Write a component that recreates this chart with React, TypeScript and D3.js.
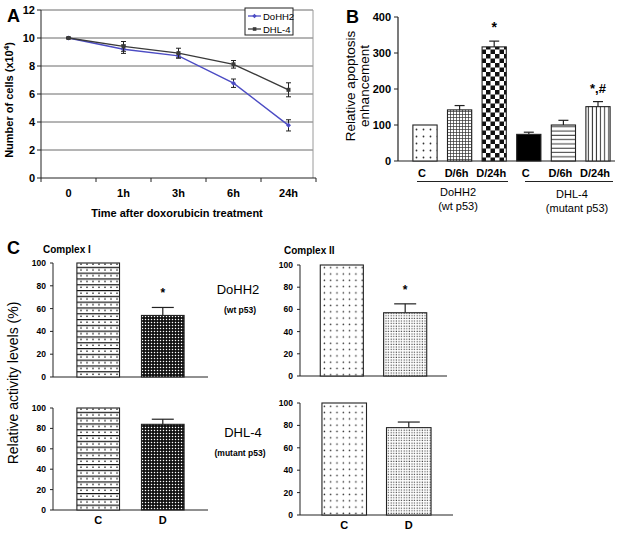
import React from "react";
import * as d3 from "d3";

// Panel A
const timeLabels = ["0", "1h", "3h", "6h", "24h"];
const doHH2Cells = [10, 9.2, 8.72, 6.77, 3.76];
const doHH2Err = [0.05, 0.3, 0.15, 0.3, 0.4];
const dhl4Cells = [10, 9.4, 8.92, 8.12, 6.3];
const dhl4Err = [0.05, 0.35, 0.35, 0.27, 0.5];
const cellTicks = [0, 2, 4, 6, 8, 10, 12];

// Panel B
const apopCategories = ["C", "D/6h", "D/24h", "C", "D/6h", "D/24h"];
const apopValues = [100, 142, 317, 74, 100, 151];
const apopErr = [0, 12, 16, 6, 13, 14];
const apopMarks = ["", "", "*", "", "", "*,#"];
const apopTicks = [0, 100, 200, 300, 400];
const apopPatterns = ["pDotsSparse", "pMesh", "pChecker", "solidBlack", "pHLines", "pVLines"];

// Panel C
const activityCategories = ["C", "D"];
const complexIDoHH2 = [100, 54];
const complexIDoHH2Err = [0, 7];
const complexIDHL4 = [100, 84];
const complexIDHL4Err = [0, 5];
const complexIIDoHH2 = [100, 57];
const complexIIDoHH2Err = [0, 8];
const complexIIDHL4 = [100, 78];
const complexIIDHL4Err = [0, 5];
const activityTicks = [0, 20, 40, 60, 80, 100];

const FONT = "'Liberation Sans', Arial, sans-serif";

function PanelA() {
  const x = d3.scaleBand<string>().domain(timeLabels).range([41, 316]);
  const y = d3.scaleLinear().domain([0, 12]).range([178, 10]);
  const cx = (t: string) => (x(t) as number) + x.bandwidth() / 2;
  const line = d3
    .line<number>()
    .x((_, i) => cx(timeLabels[i]))
    .y((d) => y(d));
  const blue = "#4c4cc4";
  const dark = "#3a3a3a";
  const series = [
    { vals: doHH2Cells, err: doHH2Err, color: blue },
    { vals: dhl4Cells, err: dhl4Err, color: dark },
  ];
  const bounds = [...timeLabels.map((t) => x(t) as number), 316];
  return (
    <g>
      <text x={7} y={22} fontSize={18} fontWeight="bold" fontFamily={FONT}>A</text>
      {cellTicks.filter((t) => t > 0).map((t) => (
        <line key={t} x1={41} x2={313} y1={y(t)} y2={y(t)} stroke="#6a6a6a" strokeWidth={1} />
      ))}
      <line x1={313} x2={313} y1={y(12)} y2={178} stroke="#9a9a9a" strokeWidth={1} />
      <line x1={41} x2={41} y1={y(12)} y2={178} stroke="#222" strokeWidth={1} />
      <line x1={41} x2={316} y1={178} y2={178} stroke="#222" strokeWidth={1} />
      {cellTicks.map((t) => (
        <g key={t}>
          <line x1={37} x2={41} y1={y(t)} y2={y(t)} stroke="#222" />
          <text x={35} y={y(t) + 4} textAnchor="end" fontSize={11} fontWeight="bold" fontFamily={FONT}>{t}</text>
        </g>
      ))}
      {bounds.map((b, i) => (
        <line key={i} x1={b} x2={b} y1={178} y2={182} stroke="#222" />
      ))}
      {timeLabels.map((t) => (
        <text key={t} x={cx(t)} y={197} textAnchor="middle" fontSize={11} fontWeight="bold" fontFamily={FONT}>{t}</text>
      ))}
      <text transform="translate(13,100) rotate(-90)" textAnchor="middle" fontSize={11} fontWeight="bold" fontFamily={FONT}>
        Number of cells (x10<tspan dy={-4} fontSize={8}>4</tspan><tspan dy={4}>)</tspan>
      </text>
      <text x={177} y={217} textAnchor="middle" fontSize={11} fontWeight="bold" fontFamily={FONT}>Time after doxorubicin treatment</text>
      {series.map((s, si) => (
        <g key={si}>
          {s.vals.map((v, i) => {
            const xx = cx(timeLabels[i]);
            return (
              <g key={i}>
                <line x1={xx} x2={xx} y1={y(v - s.err[i])} y2={y(v + s.err[i])} stroke="#222" strokeWidth={1} />
                <line x1={xx - 2.5} x2={xx + 2.5} y1={y(v - s.err[i])} y2={y(v - s.err[i])} stroke="#222" />
                <line x1={xx - 2.5} x2={xx + 2.5} y1={y(v + s.err[i])} y2={y(v + s.err[i])} stroke="#222" />
              </g>
            );
          })}
          <path d={line(s.vals) || ""} fill="none" stroke={s.color} strokeWidth={1.4} />
          {s.vals.map((v, i) =>
            si === 0 ? (
              <path key={i} d={`M${cx(timeLabels[i])},${y(v) - 2.5}l2.5,2.5l-2.5,2.5l-2.5,-2.5z`} fill={s.color} />
            ) : (
              <rect key={i} x={cx(timeLabels[i]) - 2} y={y(v) - 2} width={4} height={4} fill={s.color} />
            )
          )}
        </g>
      ))}
      <rect x={245} y={8} width={48} height={27} fill="#fff" stroke="#222" strokeWidth={1} />
      <line x1={248} x2={261} y1={16} y2={16} stroke={blue} strokeWidth={1.3} />
      <path d={`M254.5,13.8l2.2,2.2l-2.2,2.2l-2.2,-2.2z`} fill={blue} />
      <text x={263} y={19.5} fontSize={9.5} fontFamily={FONT}>DoHH2</text>
      <line x1={248} x2={261} y1={29} y2={29} stroke={dark} strokeWidth={1.3} />
      <rect x={252.8} y={27.2} width={3.6} height={3.6} fill={dark} />
      <text x={263} y={32.5} fontSize={9.5} fontFamily={FONT}>DHL-4</text>
    </g>
  );
}

function PanelB() {
  const idx = apopCategories.map((_, i) => String(i));
  const x = d3.scaleBand<string>().domain(idx).range([407.7, 615.3]).paddingInner(0.3).paddingOuter(0.15);
  const y = d3.scaleLinear().domain([0, 400]).range([161, 17]);
  const bw = x.bandwidth();
  return (
    <g>
      <text x={346} y={23} fontSize={18} fontWeight="bold" fontFamily={FONT}>B</text>
      <line x1={398} x2={398} y1={y(400)} y2={y(0)} stroke="#222" strokeWidth={1.2} />
      <line x1={398} x2={615} y1={y(0)} y2={y(0)} stroke="#222" strokeWidth={1.2} />
      {apopTicks.map((t) => (
        <g key={t}>
          <line x1={394} x2={398} y1={y(t)} y2={y(t)} stroke="#222" />
          <text x={391} y={y(t) + 4} textAnchor="end" fontSize={11} fontWeight="bold" fontFamily={FONT}>{t}</text>
        </g>
      ))}
      {apopValues.map((v, i) => {
        const x0 = x(String(i)) as number;
        const c = x0 + bw / 2;
        const top = y(v);
        const et = y(v + apopErr[i]);
        return (
          <g key={i}>
            {apopErr[i] > 0 && (
              <g>
                <line x1={c} x2={c} y1={top} y2={et} stroke="#222" strokeWidth={1.2} />
                <line x1={c - 5} x2={c + 5} y1={et} y2={et} stroke="#222" strokeWidth={1.2} />
              </g>
            )}
            <rect x={x0} y={top} width={bw} height={y(0) - top}
              fill={apopPatterns[i] === "solidBlack" ? "#000" : `url(#${apopPatterns[i]})`}
              stroke="#222" strokeWidth={1.1} />
            {apopMarks[i] && (
              <text x={c} y={et - 9} textAnchor="middle" fontSize={apopMarks[i] === "*" ? 14 : 13} fontWeight="bold" fontFamily={FONT}>{apopMarks[i]}</text>
            )}
            <text x={c - 3} y={177} textAnchor="middle" fontSize={11} fontWeight="bold" fontFamily={FONT}>{apopCategories[i]}</text>
          </g>
        );
      })}
      <line x1={417} x2={508} y1={181.5} y2={181.5} stroke="#222" strokeWidth={1} />
      <line x1={525} x2={613} y1={181.5} y2={181.5} stroke="#222" strokeWidth={1} />
      <text x={458} y={196} textAnchor="middle" fontSize={11} fontFamily={FONT}>DoHH2</text>
      <text x={458} y={210} textAnchor="middle" fontSize={11} fontFamily={FONT}>(wt p53)</text>
      <text x={572} y={198} textAnchor="middle" fontSize={11} fontFamily={FONT}>DHL-4</text>
      <text x={577} y={212} textAnchor="middle" fontSize={11} fontFamily={FONT}>(mutant p53)</text>
      <text transform="translate(355,86) rotate(-90)" textAnchor="middle" fontSize={13.5} fontFamily={FONT}>Relative apoptosis</text>
      <text transform="translate(369,86) rotate(-90)" textAnchor="middle" fontSize={13.5} fontFamily={FONT}>enhancement</text>
    </g>
  );
}

type SubProps = {
  axisX: number;
  xEnd: number;
  y0: number;
  y100: number;
  pi: number;
  po: number;
  values: number[];
  errs: number[];
  patterns: string[];
  star: boolean;
  showCats: boolean;
};

function SubChart(p: SubProps) {
  const x = d3.scaleBand<string>().domain(activityCategories).range([p.axisX, p.xEnd]).paddingInner(p.pi).paddingOuter(p.po);
  const y = d3.scaleLinear().domain([0, 100]).range([p.y0, p.y100]);
  const bw = x.bandwidth();
  return (
    <g>
      <line x1={p.axisX} x2={p.axisX} y1={y(100)} y2={y(0)} stroke="#222" strokeWidth={1} />
      <line x1={p.axisX} x2={p.xEnd} y1={y(0)} y2={y(0)} stroke="#222" strokeWidth={1} />
      {activityTicks.map((t) => (
        <g key={t}>
          <line x1={p.axisX - 3} x2={p.axisX} y1={y(t)} y2={y(t)} stroke="#222" />
          <text x={p.axisX - 7} y={y(t) + 3} textAnchor="end" fontSize={8.5} fontWeight="bold" fontFamily={FONT}>{t}</text>
        </g>
      ))}
      {p.values.map((v, i) => {
        const cat = activityCategories[i];
        const x0 = x(cat) as number;
        const c = x0 + bw / 2;
        const top = y(v);
        const et = y(v + p.errs[i]);
        return (
          <g key={i}>
            {p.errs[i] > 0 && (
              <g>
                <line x1={c} x2={c} y1={top} y2={et} stroke="#222" strokeWidth={1.2} />
                <line x1={c - 11} x2={c + 11} y1={et} y2={et} stroke="#222" strokeWidth={1.2} />
              </g>
            )}
            <rect x={x0} y={top} width={bw} height={y(0) - top} fill={`url(#${p.patterns[i]})`} stroke="#222" strokeWidth={1.1} />
            {p.star && i === 1 && (
              <text x={c} y={et - 10} textAnchor="middle" fontSize={12} fontWeight="bold" fontFamily={FONT}>*</text>
            )}
            {p.showCats && (
              <text x={c} y={y(0) + 14} textAnchor="middle" fontSize={11} fontWeight="bold" fontFamily={FONT}>{cat}</text>
            )}
          </g>
        );
      })}
    </g>
  );
}

function PanelC() {
  return (
    <g>
      <text x={7} y={254} fontSize={18} fontWeight="bold" fontFamily={FONT}>C</text>
      <text x={43} y={253} fontSize={10} fontWeight="bold" fontFamily={FONT}>Complex I</text>
      <text x={284} y={254} fontSize={10} fontWeight="bold" fontFamily={FONT}>Complex II</text>
      <SubChart axisX={53} xEnd={208} y0={377} y100={263} pi={0.34} po={0.37}
        values={complexIDoHH2} errs={complexIDoHH2Err} patterns={["pBrick", "pDiamond"]} star={true} showCats={false} />
      <SubChart axisX={53} xEnd={208} y0={510} y100={408} pi={0.34} po={0.37}
        values={complexIDHL4} errs={complexIDHL4Err} patterns={["pBrick", "pDiamond"]} star={false} showCats={true} />
      <SubChart axisX={300} xEnd={447} y0={376} y100={265} pi={0.32} po={0.32}
        values={complexIIDoHH2} errs={complexIIDoHH2Err} patterns={["pDotsMid", "pDotsFine"]} star={true} showCats={false} />
      <SubChart axisX={300} xEnd={453} y0={515} y100={403} pi={0.31} po={0.34}
        values={complexIIDHL4} errs={complexIIDHL4Err} patterns={["pDotsMid", "pDotsFine"]} star={false} showCats={true} />
      <text x={238} y={294} textAnchor="middle" fontSize={13} fontFamily={FONT}>DoHH2</text>
      <text x={240} y={313} textAnchor="middle" fontSize={8.5} fontWeight="bold" fontFamily={FONT}>(wt p53)</text>
      <text x={243} y={437} textAnchor="middle" fontSize={13} fontFamily={FONT}>DHL-4</text>
      <text x={240} y={456} textAnchor="middle" fontSize={8.5} fontWeight="bold" fontFamily={FONT}>(mutant p53)</text>
      <text transform="translate(18,383) rotate(-90)" textAnchor="middle" fontSize={14} fontFamily={FONT}>Relative activity levels (%)</text>
    </g>
  );
}

function Patterns() {
  return (
    <defs>
      <pattern id="pDotsSparse" width={7} height={7} patternUnits="userSpaceOnUse">
        <rect width={7} height={7} fill="#fff" />
        <circle cx={3.5} cy={3.5} r={0.9} fill="#333" />
      </pattern>
      <pattern id="pMesh" width={3} height={3} patternUnits="userSpaceOnUse">
        <rect width={3} height={3} fill="#fff" />
        <path d="M0,0.4H3M0.4,0V3" stroke="#333" strokeWidth={0.8} />
      </pattern>
      <pattern id="pChecker" width={9} height={9} patternUnits="userSpaceOnUse">
        <rect width={9} height={9} fill="#fff" />
        <rect x={0} y={0} width={4.5} height={4.5} fill="#111" />
        <rect x={4.5} y={4.5} width={4.5} height={4.5} fill="#111" />
      </pattern>
      <pattern id="pHLines" width={4.3} height={4.3} patternUnits="userSpaceOnUse">
        <rect width={4.3} height={4.3} fill="#fff" />
        <line x1={0} x2={4.3} y1={2} y2={2} stroke="#333" strokeWidth={1} />
      </pattern>
      <pattern id="pVLines" width={4.1} height={4.1} patternUnits="userSpaceOnUse">
        <rect width={4.1} height={4.1} fill="#fff" />
        <line x1={2} x2={2} y1={0} y2={4.1} stroke="#333" strokeWidth={1} />
      </pattern>
      <pattern id="pBrick" width={6} height={5.8} patternUnits="userSpaceOnUse">
        <rect width={6} height={5.8} fill="#fff" />
        <line x1={0} x2={6} y1={0.6} y2={0.6} stroke="#111" strokeWidth={1.2} />
        <rect x={2} y={2.6} width={2} height={1} fill="#222" />
      </pattern>
      <pattern id="pDiamond" width={3} height={3} patternUnits="userSpaceOnUse">
        <rect width={3} height={3} fill="#111" />
        <circle cx={1.5} cy={1.5} r={0.75} fill="#fff" />
      </pattern>
      <pattern id="pDotsMid" width={6.3} height={6.3} patternUnits="userSpaceOnUse">
        <rect width={6.3} height={6.3} fill="#fff" />
        <circle cx={3.1} cy={3.1} r={0.75} fill="#222" />
      </pattern>
      <pattern id="pDotsFine" width={2.6} height={2.6} patternUnits="userSpaceOnUse">
        <rect width={2.6} height={2.6} fill="#fff" />
        <rect x={0.6} y={0.6} width={1.1} height={1.1} fill="#333" />
      </pattern>
    </defs>
  );
}

export default function App() {
  return (
    <svg width={626} height={535} viewBox="0 0 626 535"
      style={{ position: "absolute", left: 0, top: 0, background: "#fff", display: "block" }}>
      <Patterns />
      <rect width={626} height={535} fill="#fff" />
      <PanelA />
      <PanelB />
      <PanelC />
    </svg>
  );
}
